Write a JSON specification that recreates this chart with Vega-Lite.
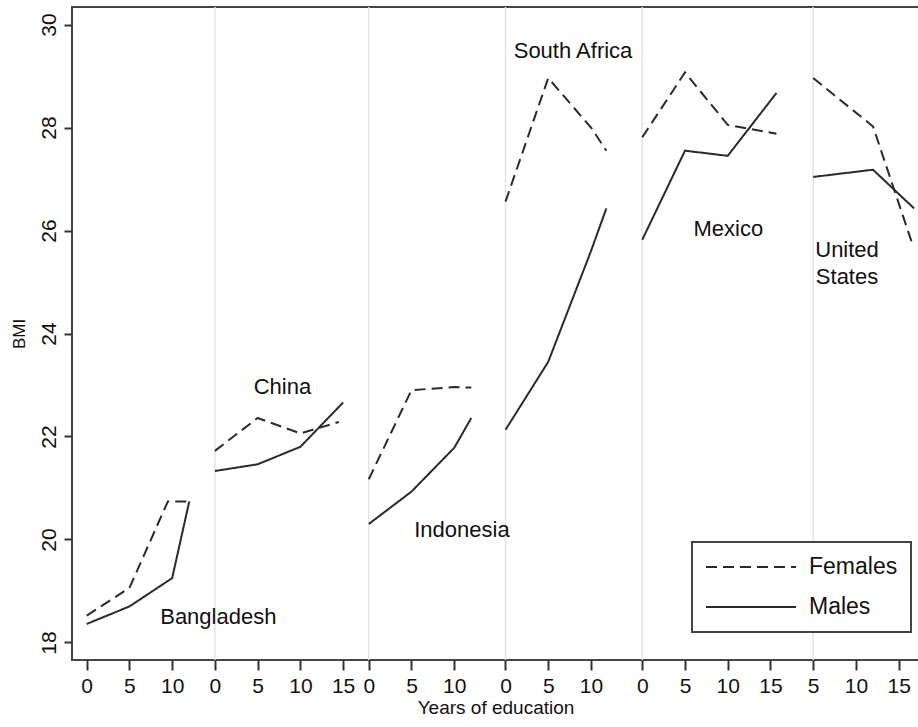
{
  "$schema": "https://vega.github.io/schema/vega-lite/v6.json",
  "width": 847,
  "height": 653,
  "autosize": {"type": "none"},
  "padding": {"left": 72, "top": 7, "right": 0, "bottom": 67},
  "background": "white",
  "config": {
    "font": "Liberation Sans",
    "view": {"stroke": "#444444", "strokeWidth": 2},
    "legend": {"strokeWidth": 2}
  },
  "datasets": {
    "dividers": [
      {"pos": 15}, {"pos": 33}, {"pos": 49}, {"pos": 65}, {"pos": 85}
    ],
    "bmi": [
      {"country": "Bangladesh", "sex": "Females", "pos": 0, "bmi": 18.52},
      {"country": "Bangladesh", "sex": "Females", "pos": 5, "bmi": 19.06},
      {"country": "Bangladesh", "sex": "Females", "pos": 9.5, "bmi": 20.74},
      {"country": "Bangladesh", "sex": "Females", "pos": 12, "bmi": 20.74},
      {"country": "Bangladesh", "sex": "Males", "pos": 0, "bmi": 18.36},
      {"country": "Bangladesh", "sex": "Males", "pos": 5, "bmi": 18.70},
      {"country": "Bangladesh", "sex": "Males", "pos": 10, "bmi": 19.25},
      {"country": "Bangladesh", "sex": "Males", "pos": 12, "bmi": 20.74},
      {"country": "China", "sex": "Females", "pos": 15, "bmi": 21.72},
      {"country": "China", "sex": "Females", "pos": 20, "bmi": 22.36},
      {"country": "China", "sex": "Females", "pos": 25, "bmi": 22.06},
      {"country": "China", "sex": "Females", "pos": 29.5, "bmi": 22.28},
      {"country": "China", "sex": "Males", "pos": 15, "bmi": 21.33},
      {"country": "China", "sex": "Males", "pos": 20, "bmi": 21.46},
      {"country": "China", "sex": "Males", "pos": 25, "bmi": 21.80},
      {"country": "China", "sex": "Males", "pos": 30, "bmi": 22.66},
      {"country": "Indonesia", "sex": "Females", "pos": 33, "bmi": 21.17},
      {"country": "Indonesia", "sex": "Females", "pos": 38, "bmi": 22.90},
      {"country": "Indonesia", "sex": "Females", "pos": 43, "bmi": 22.96},
      {"country": "Indonesia", "sex": "Females", "pos": 45, "bmi": 22.95},
      {"country": "Indonesia", "sex": "Males", "pos": 33, "bmi": 20.30},
      {"country": "Indonesia", "sex": "Males", "pos": 38, "bmi": 20.93},
      {"country": "Indonesia", "sex": "Males", "pos": 43, "bmi": 21.78},
      {"country": "Indonesia", "sex": "Males", "pos": 45, "bmi": 22.36},
      {"country": "South Africa", "sex": "Females", "pos": 49, "bmi": 26.56},
      {"country": "South Africa", "sex": "Females", "pos": 54, "bmi": 28.96},
      {"country": "South Africa", "sex": "Females", "pos": 59, "bmi": 28.0},
      {"country": "South Africa", "sex": "Females", "pos": 60.8, "bmi": 27.55},
      {"country": "South Africa", "sex": "Males", "pos": 49, "bmi": 22.13},
      {"country": "South Africa", "sex": "Males", "pos": 54, "bmi": 23.45},
      {"country": "South Africa", "sex": "Males", "pos": 59, "bmi": 25.6},
      {"country": "South Africa", "sex": "Males", "pos": 60.8, "bmi": 26.43},
      {"country": "Mexico", "sex": "Females", "pos": 65, "bmi": 27.81},
      {"country": "Mexico", "sex": "Females", "pos": 70, "bmi": 29.07},
      {"country": "Mexico", "sex": "Females", "pos": 75, "bmi": 28.05},
      {"country": "Mexico", "sex": "Females", "pos": 80.7, "bmi": 27.88},
      {"country": "Mexico", "sex": "Males", "pos": 65, "bmi": 25.82},
      {"country": "Mexico", "sex": "Males", "pos": 70, "bmi": 27.55},
      {"country": "Mexico", "sex": "Males", "pos": 75, "bmi": 27.45},
      {"country": "Mexico", "sex": "Males", "pos": 80.7, "bmi": 28.67},
      {"country": "United States", "sex": "Females", "pos": 85, "bmi": 28.96},
      {"country": "United States", "sex": "Females", "pos": 92, "bmi": 28.02},
      {"country": "United States", "sex": "Females", "pos": 96.7, "bmi": 25.69},
      {"country": "United States", "sex": "Males", "pos": 85, "bmi": 27.04},
      {"country": "United States", "sex": "Males", "pos": 92, "bmi": 27.18},
      {"country": "United States", "sex": "Males", "pos": 96.8, "bmi": 26.43}
    ],
    "labels": [
      {"label": "Bangladesh", "pos": 15.4, "bmi": 18.5},
      {"label": "China", "pos": 22.9, "bmi": 22.97},
      {"label": "Indonesia", "pos": 43.9, "bmi": 20.19},
      {"label": "South Africa", "pos": 56.9, "bmi": 29.48},
      {"label": "Mexico", "pos": 75.07, "bmi": 26.03},
      {"label": "United\nStates", "pos": 88.96, "bmi": 25.62}
    ]
  },
  "layer": [
    {
      "data": {"name": "dividers"},
      "mark": {"type": "rule", "color": "#e4e4e4", "strokeWidth": 1.5},
      "encoding": {
        "x": {"field": "pos", "type": "quantitative", "scale": {"domain": [-1.72, 97.38], "nice": false, "zero": false}}
      }
    },
    {
      "data": {"name": "bmi"},
      "mark": {"type": "line", "color": "#2a2a2a", "strokeWidth": 2},
      "encoding": {
        "x": {
          "field": "pos", "type": "quantitative",
          "scale": {"domain": [-1.72, 97.38], "nice": false, "zero": false},
          "axis": {
            "title": "Years of education",
            "titleFontSize": 19, "titleFontWeight": "normal", "titleColor": "#111111", "titlePadding": 2,
            "values": [0, 5, 10, 15, 20, 25, 30, 33, 38, 43, 49, 54, 59, 65, 70, 75, 80, 85, 90, 95],
            "labelExpr": "'' + (datum.value < 15 ? datum.value : datum.value < 33 ? datum.value - 15 : datum.value < 49 ? datum.value - 33 : datum.value < 65 ? datum.value - 49 : datum.value <= 80 ? datum.value - 65 : datum.value - 80)",
            "labelFontSize": 21, "labelColor": "#111111", "labelPadding": 5, "labelFlush": false, "labelOverlap": false,
            "tickSize": 10, "tickWidth": 2, "tickColor": "#333333",
            "domain": false, "grid": false
          }
        },
        "y": {
          "field": "bmi", "type": "quantitative",
          "scale": {"domain": [17.66, 30.34], "nice": false, "zero": false},
          "axis": {
            "title": "BMI",
            "titleFontSize": 17, "titleFontWeight": "normal", "titleColor": "#111111", "titlePadding": 10,
            "values": [18, 20, 22, 24, 26, 28, 30],
            "labelAngle": 270, "labelAlign": "center", "labelBaseline": "bottom",
            "labelFontSize": 21, "labelColor": "#111111", "labelPadding": 4.5, "labelFlush": false,
            "tickSize": 8, "tickWidth": 2, "tickColor": "#333333",
            "domain": false, "grid": false
          }
        },
        "strokeDash": {
          "field": "sex", "type": "nominal",
          "scale": {"domain": ["Females", "Males"], "range": [[11, 6], [1, 0]]},
          "legend": {
            "title": null,
            "orient": "none", "legendX": 620, "legendY": 535,
            "direction": "vertical",
            "padding": 13,
            "strokeColor": "#444444",
            "fillColor": "white",
            "labelFontSize": 23, "labelColor": "#111111", "labelOffset": 80,
            "symbolType": "M-1,0H7.18", "symbolSize": 484, "symbolStrokeWidth": 2, "symbolStrokeColor": "#2a2a2a",
            "symbolFillColor": "transparent",
            "rowPadding": 16
          }
        },
        "detail": {"field": "country", "type": "nominal"},
        "order": {"field": "pos", "type": "quantitative"}
      }
    },
    {
      "data": {"name": "labels"},
      "mark": {"type": "text", "fontSize": 22, "color": "#111111", "align": "center", "baseline": "middle", "lineBreak": "\n", "lineHeight": 27},
      "encoding": {
        "x": {"field": "pos", "type": "quantitative", "scale": {"domain": [-1.72, 97.38], "nice": false, "zero": false}},
        "y": {"field": "bmi", "type": "quantitative", "scale": {"domain": [17.66, 30.34], "nice": false, "zero": false}},
        "text": {"field": "label", "type": "nominal"}
      }
    }
  ]
}
